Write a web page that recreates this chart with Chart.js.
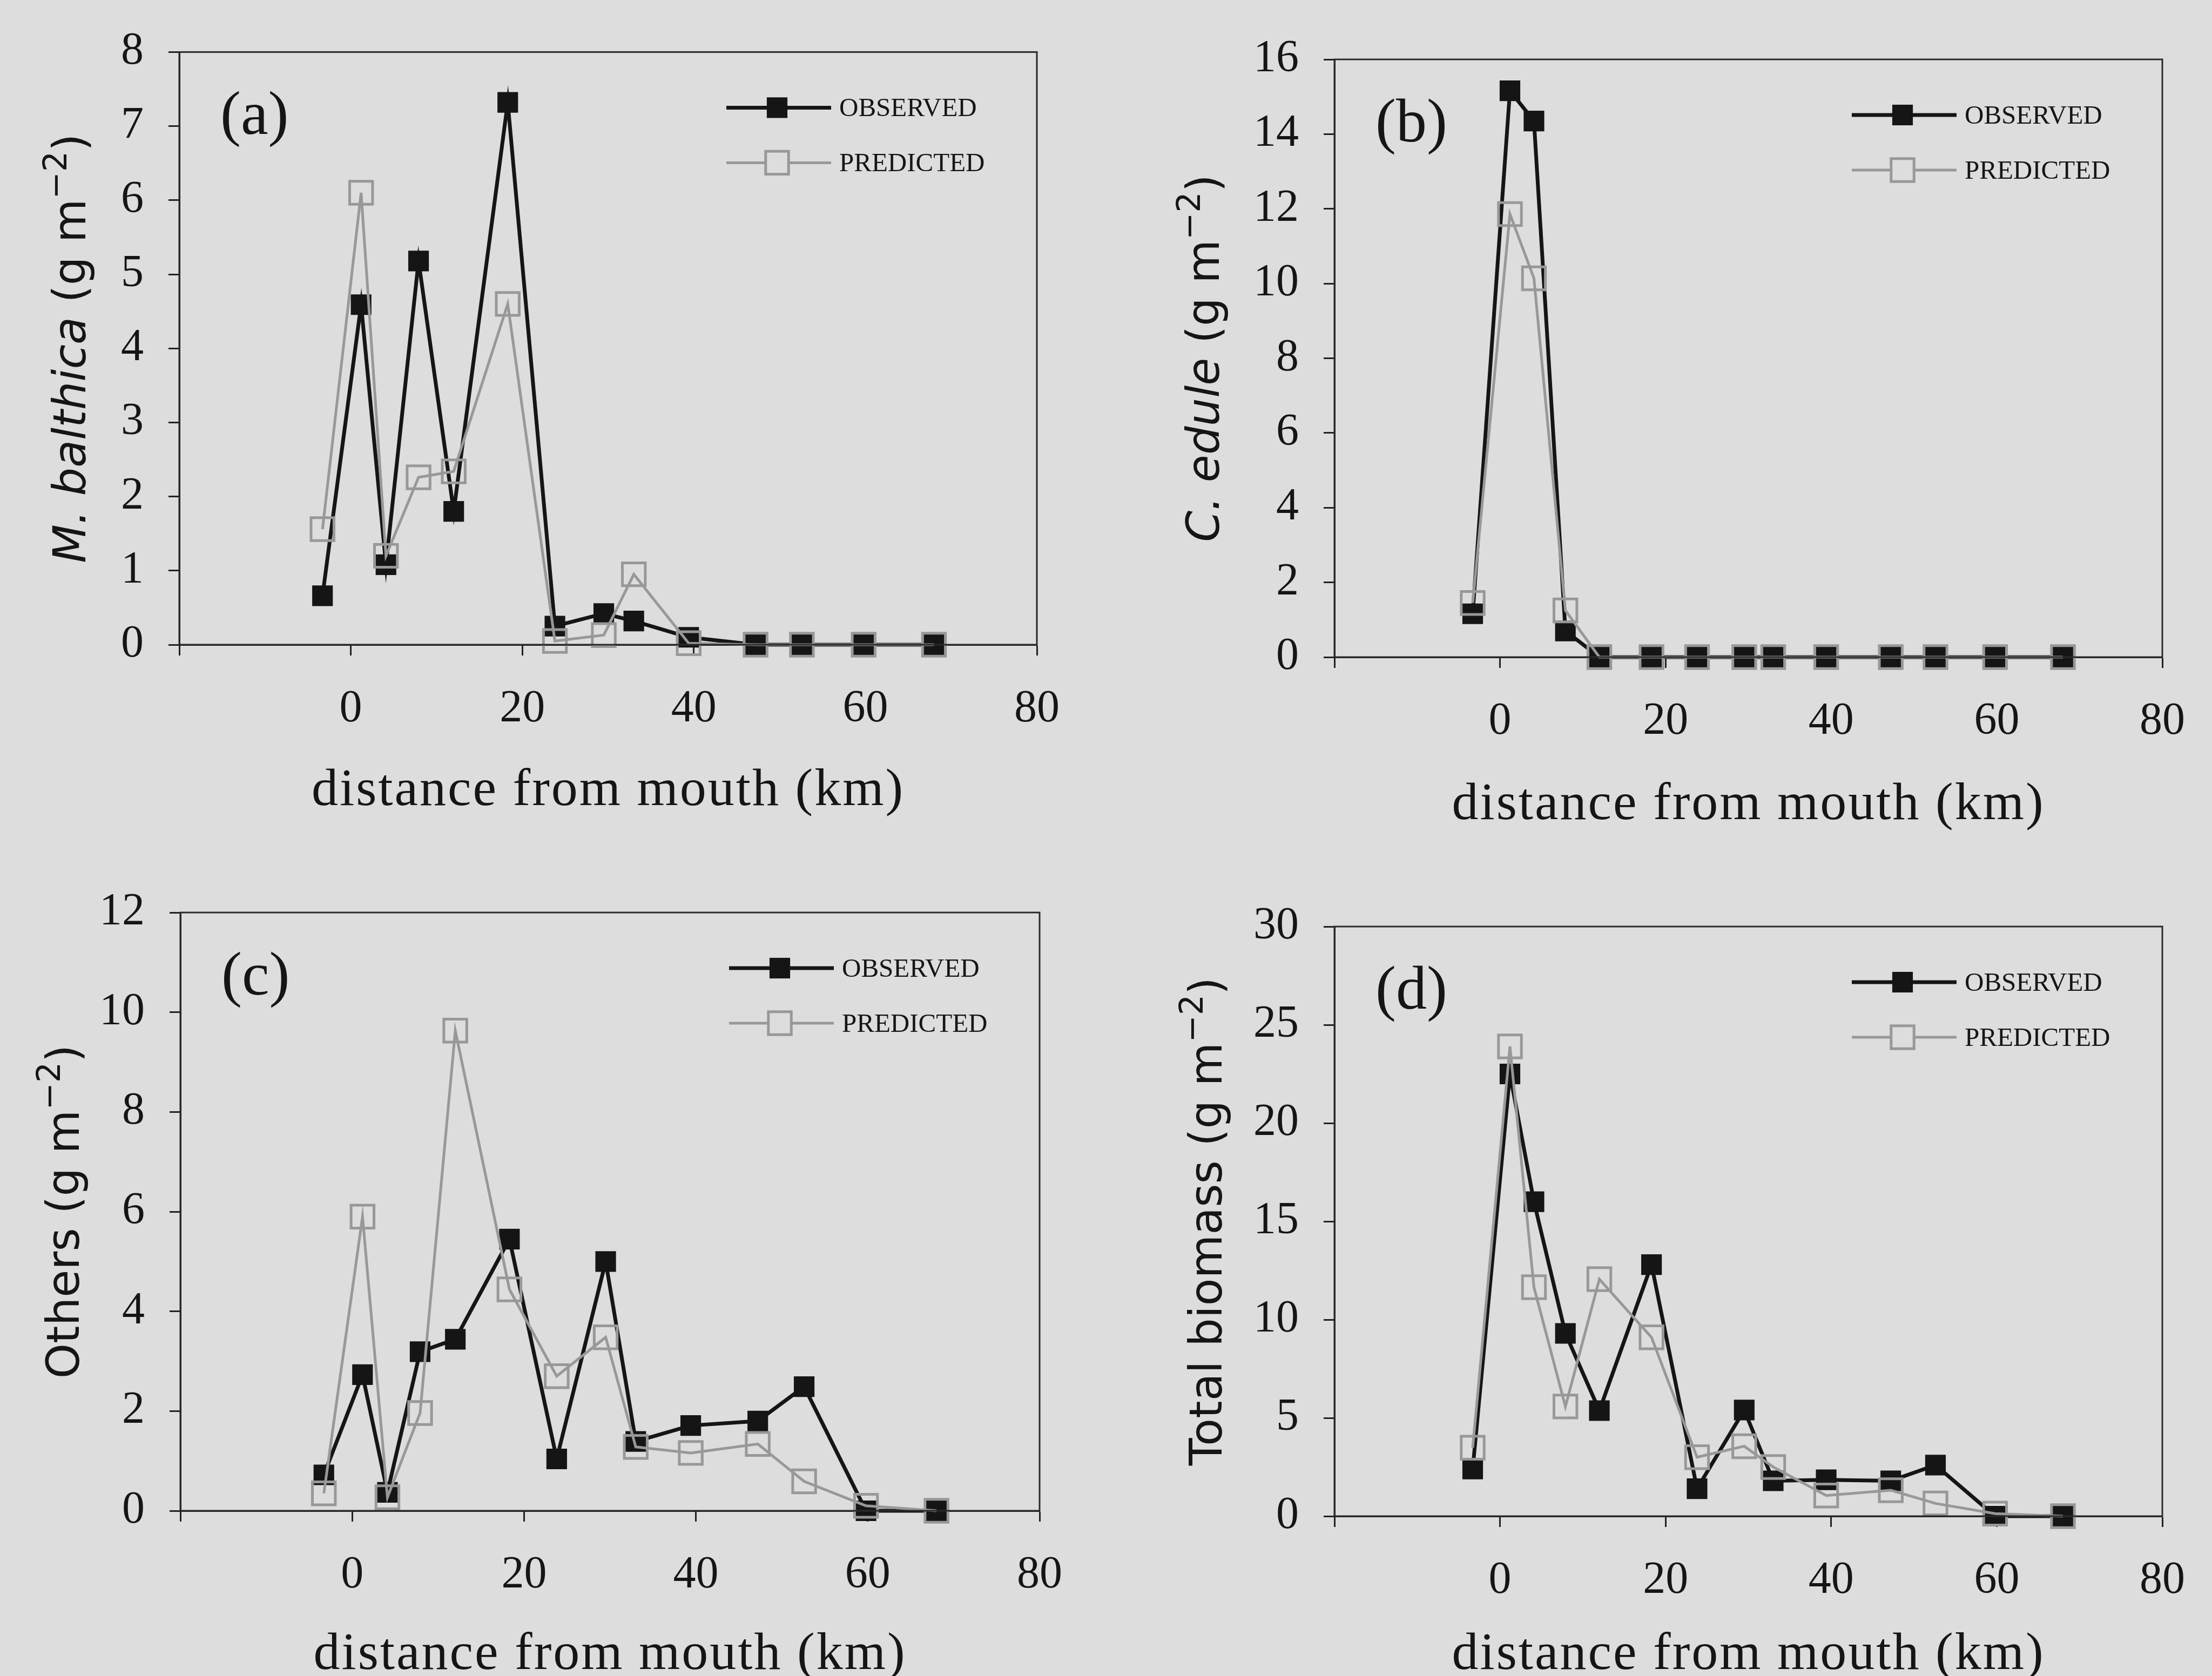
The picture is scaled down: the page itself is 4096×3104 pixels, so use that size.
<!DOCTYPE html>
<html>
<head>
<meta charset="utf-8">
<script src="https://cdn.jsdelivr.net/npm/chart.js@4/dist/chart.umd.min.js"></script>
<style>
  html, body { margin: 0; padding: 0; background: #dddddd; }
  body { width: 4096px; height: 3104px; position: relative; overflow: hidden; }
  .panel { position: absolute; width: 2048px; height: 1552px; }
  .panel canvas { display: block; }
</style>
</head>
<body>
<div class="panel" style="left:0;top:0"><canvas id="panelA" width="2048" height="1552"></canvas></div>
<div class="panel" style="left:2048px;top:0"><canvas id="panelB" width="2048" height="1552"></canvas></div>
<div class="panel" style="left:0;top:1552px"><canvas id="panelC" width="2048" height="1552"></canvas></div>
<div class="panel" style="left:2048px;top:1552px"><canvas id="panelD" width="2048" height="1552"></canvas></div>
<script>
// ---------------- data ----------------
const distanceKm = [-3.3, 1.2, 4.1, 7.9, 12.0, 18.3, 23.8, 29.5, 33.0, 39.4, 47.2, 52.6, 59.8, 68.0];

const xTickValues = [-20, 0, 20, 40, 60, 80];
const xTickLabels = ['', '0', '20', '40', '60', '80'];

const mBalthicaObserved  = [0.66, 4.59, 1.08, 5.18, 1.80, 7.32, 0.25, 0.42, 0.32, 0.10, 0, 0, 0, 0];
const mBalthicaPredicted = [1.56, 6.10, 1.20, 2.26, 2.34, 4.60, 0.05, 0.13, 0.95, 0.02, 0, 0, 0, 0];
const mBalthicaTicks     = [0, 1, 2, 3, 4, 5, 6, 7, 8];

const cEduleObserved  = [1.16, 15.16, 14.35, 0.70, 0, 0, 0, 0, 0, 0, 0, 0, 0, 0];
const cEdulePredicted = [1.45, 11.86, 10.14, 1.25, 0, 0, 0, 0, 0, 0, 0, 0, 0, 0];
const cEduleTicks     = [0, 2, 4, 6, 8, 10, 12, 14, 16];

const othersObserved  = [0.72, 2.73, 0.37, 3.19, 3.44, 5.45, 1.04, 5.00, 1.39, 1.71, 1.80, 2.49, 0, 0];
const othersPredicted = [0.35, 5.90, 0.27, 1.96, 9.63, 4.44, 2.70, 3.48, 1.28, 1.16, 1.34, 0.59, 0.10, 0];
const othersTicks     = [0, 2, 4, 6, 8, 10, 12];

const totalObserved  = [2.4, 22.5, 16.0, 9.3, 5.37, 12.8, 1.4, 5.4, 1.8, 1.85, 1.8, 2.6, 0, 0];
const totalPredicted = [3.48, 23.9, 11.65, 5.58, 12.06, 9.1, 3.0, 3.56, 2.5, 1.05, 1.32, 0.65, 0.13, 0];
const totalTicks     = [0, 5, 10, 15, 20, 25, 30];

const seriesNames = ['OBSERVED', 'PREDICTED'];
const xAxisTitle = 'distance from mouth (km)';

// ---------------- styling ----------------
const INK = '#151515';
const GREY = '#989898';
const SERIF = "'Liberation Serif', 'Times New Roman', serif";
const SANS = "'DejaVu Sans', Verdana, sans-serif";

Chart.defaults.font.family = SERIF;
Chart.defaults.color = INK;

function points(ys) {
  return distanceKm.map((x, i) => ({ x: x, y: ys[i] }));
}

const panelDecor = {
  id: 'panelDecor',
  afterDraw(chart, args, opts) {
    const ctx = chart.ctx;
    const a = chart.chartArea;
    ctx.save();
    // plot frame (top & right borders)
    ctx.strokeStyle = '#2a2a2a';
    ctx.lineWidth = 3;
    ctx.strokeRect(a.left, a.top, a.right - a.left, a.bottom - a.top);

    // panel letter
    ctx.fillStyle = INK;
    ctx.font = '114px ' + SERIF;
    ctx.textAlign = 'left';
    ctx.textBaseline = 'alphabetic';
    ctx.fillText(opts.letter, a.left + 76, a.top + 152);

    // legend
    const obs = chart.data.datasets.find(d => d.label === seriesNames[0]);
    const pre = chart.data.datasets.find(d => d.label === seriesNames[1]);
    const rows = [[obs, a.top + 103], [pre, a.top + 205]];
    rows.forEach(([ds, y]) => {
      const x1 = a.right - 575, x2 = a.right - 381, xm = a.right - 481;
      ctx.strokeStyle = ds.borderColor;
      ctx.lineWidth = ds.borderWidth;
      ctx.beginPath(); ctx.moveTo(x1, y); ctx.lineTo(x2, y); ctx.stroke();
      const half = ds.pointRadius * Math.SQRT1_2;
      if (ds.pointBorderWidth > 0) {
        ctx.fillStyle = '#dddddd';
        ctx.fillRect(xm - half, y - half, 2 * half, 2 * half);
        ctx.lineWidth = ds.pointBorderWidth;
        ctx.strokeStyle = ds.pointBorderColor;
        ctx.strokeRect(xm - half, y - half, 2 * half, 2 * half);
      } else {
        ctx.fillStyle = ds.pointBackgroundColor;
        ctx.fillRect(xm - half, y - half, 2 * half, 2 * half);
      }
      ctx.fillStyle = INK;
      ctx.font = '49px ' + SERIF;
      ctx.textAlign = 'left';
      ctx.textBaseline = 'alphabetic';
      ctx.fillText(ds.label, a.right - 366, y + 16);
    });

    // x axis title
    ctx.fillStyle = INK;
    ctx.font = '98px ' + SERIF;
    ctx.textAlign = 'center';
    ctx.textBaseline = 'alphabetic';
    try { ctx.letterSpacing = '3px'; } catch (e) {}
    ctx.fillText(xAxisTitle, (a.left + a.right) / 2, a.bottom + opts.xTitleOffset + 23);
    try { ctx.letterSpacing = '0px'; } catch (e) {}

    // y axis title (rich: italic species names + superscript)
    const size = 83;
    const runs = opts.yTitle;
    const fontFor = r => (r.italic ? 'italic ' : '') + Math.round(r.sup ? size * 0.72 : size) + 'px ' + SANS;
    ctx.save();
    ctx.translate(a.left + opts.yTitleOffset, (a.top + a.bottom) / 2);
    ctx.rotate(-Math.PI / 2);
    ctx.textAlign = 'left';
    ctx.textBaseline = 'alphabetic';
    let total = 0;
    runs.forEach(r => { ctx.font = fontFor(r); r.w = ctx.measureText(r.text).width; total += r.w; });
    let x = -total / 2;
    runs.forEach(r => {
      ctx.font = fontFor(r);
      ctx.fillText(r.text, x, r.sup ? -size * 0.42 : 0);
      x += r.w;
    });
    ctx.restore();
    ctx.restore();
  }
};

function makePanel(canvasId, cfg) {
  const yTicks = cfg.yTicks;
  const box = cfg.box; // chart area edges inside the canvas
  const canvas = document.getElementById(canvasId);
  const leftSpace = box.left;
  const bottomSpace = canvas.height - box.bottom;
  return new Chart(canvas, {
    type: 'line',
    data: {
      datasets: [
        {
          label: seriesNames[1],
          data: points(cfg.predicted),
          borderColor: GREY,
          borderWidth: 5,
          pointStyle: 'rect',
          pointRadius: 30,
          pointBorderWidth: 5,
          pointBorderColor: GREY,
          pointBackgroundColor: 'rgba(0,0,0,0)',
          tension: 0,
          clip: false,
          order: 0
        },
        {
          label: seriesNames[0],
          data: points(cfg.observed),
          borderColor: INK,
          borderWidth: 7,
          pointStyle: 'rect',
          pointRadius: 27,
          pointBorderWidth: 0,
          pointBackgroundColor: INK,
          tension: 0,
          clip: false,
          order: 1
        }
      ]
    },
    options: {
      responsive: false,
      animation: false,
      devicePixelRatio: 1,
      events: [],
      layout: { padding: { left: 0, bottom: 0, top: box.top, right: canvas.width - box.right } },
      plugins: {
        legend: { display: false },
        tooltip: { enabled: false },
        panelDecor: { letter: cfg.letter, yTitle: cfg.yTitle, yTitleOffset: cfg.yTitleOffset, xTitleOffset: cfg.xTitleOffset }
      },
      scales: {
        x: {
          type: 'linear',
          min: xTickValues[0],
          max: xTickValues[xTickValues.length - 1],
          afterBuildTicks: s => { s.ticks = xTickValues.map(v => ({ value: v })); },
          afterFit: s => { s.height = bottomSpace; },
          ticks: {
            autoSkip: false, maxRotation: 0, minRotation: 0, padding: 50,
            font: { family: SERIF, size: 84 }, color: INK,
            callback: v => xTickLabels[xTickValues.indexOf(v)]
          },
          grid: { drawOnChartArea: false, drawTicks: true, tickLength: 20, tickWidth: 3, tickColor: '#222' },
          border: { display: true, color: INK, width: 3 }
        },
        y: {
          type: 'linear',
          min: yTicks[0],
          max: yTicks[yTicks.length - 1],
          afterBuildTicks: s => { s.ticks = yTicks.map(v => ({ value: v })); },
          afterFit: s => { s.width = leftSpace; },
          ticks: {
            autoSkip: false, padding: 46,
            font: { family: SERIF, size: 84 }, color: INK,
            callback: v => String(v)
          },
          grid: { drawOnChartArea: false, drawTicks: true, tickLength: 20, tickWidth: 3, tickColor: '#222' },
          border: { display: true, color: INK, width: 3 }
        }
      }
    },
    plugins: [panelDecor]
  });
}

const unitRuns = [{ text: ' (g m' }, { text: '\u22122', sup: true }, { text: ')' }];

makePanel('panelA', {
  observed: mBalthicaObserved, predicted: mBalthicaPredicted, yTicks: mBalthicaTicks,
  letter: '(a)',
  yTitle: [{ text: 'M. balthica', italic: true }].concat(unitRuns.map(r => Object.assign({}, r))),
  yTitleOffset: -174, xTitleOffset: 274,
  box: { left: 332, top: 84, right: 1920, bottom: 1194 }
});
makePanel('panelB', {
  observed: cEduleObserved, predicted: cEdulePredicted, yTicks: cEduleTicks,
  letter: '(b)',
  yTitle: [{ text: 'C. edule', italic: true }].concat(unitRuns.map(r => Object.assign({}, r))),
  yTitleOffset: -214, xTitleOffset: 277,
  box: { left: 423, top: 110, right: 1993, bottom: 1217 }
});
makePanel('panelC', {
  observed: othersObserved, predicted: othersPredicted, yTicks: othersTicks,
  letter: '(c)',
  yTitle: [{ text: 'Others' }].concat(unitRuns.map(r => Object.assign({}, r))),
  yTitleOffset: -188, xTitleOffset: 270,
  box: { left: 334, top: 138, right: 1925, bottom: 1246 }
});
makePanel('panelD', {
  observed: totalObserved, predicted: totalPredicted, yTicks: totalTicks,
  letter: '(d)',
  yTitle: [{ text: 'Total biomass' }].concat(unitRuns.map(r => Object.assign({}, r))),
  yTitleOffset: -209, xTitleOffset: 260,
  box: { left: 423, top: 164, right: 1993, bottom: 1256 }
});
</script>
</body>
</html>
